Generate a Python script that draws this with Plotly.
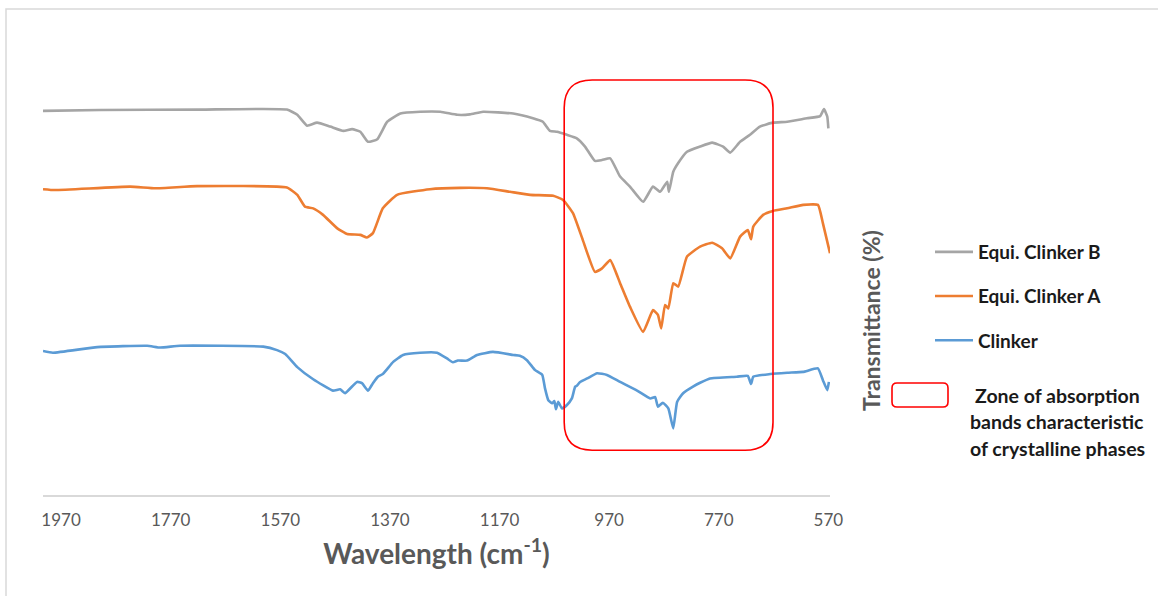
import plotly.graph_objects as go

# ---------------- data ----------------
wn_b = [2003, 1899, 1716, 1558, 1539, 1521, 1503, 1479, 1455, 1439,
        1424, 1410, 1393, 1375, 1351, 1315, 1278, 1247, 1224, 1200,
        1145, 1109, 1091, 1078, 1065, 1047, 1029, 1014, 996, 983,
        968, 950, 932, 908, 890, 877, 864, 861, 853, 844,
        828, 804, 782, 762, 749, 731, 713, 695, 671, 645,
        609, 585, 578, 572, 570]
t_b = [88.3, 88.5, 88.6, 88.6, 87.4, 84.9, 85.6, 84.7, 83.7, 84.1,
       83.5, 81.2, 81.8, 85.8, 87.7, 88.1, 88.1, 87.4, 87.5, 88.1,
       87.7, 86.6, 85.8, 83.7, 83.5, 82.8, 82.0, 80.1, 76.8, 77.0,
       77.4, 73.2, 70.9, 67.4, 70.9, 69.7, 72.0, 69.7, 74.3, 76.3,
       78.9, 80.1, 81.0, 80.1, 78.7, 81.2, 82.8, 84.7, 85.6, 85.8,
       86.6, 87.1, 88.7, 87.0, 84.3]

wn_a = [2003, 1981, 1844, 1798, 1722, 1558, 1539, 1525, 1510, 1492,
        1466, 1448, 1424, 1412, 1401, 1383, 1357, 1297, 1242, 1193,
        1151, 1114, 1072, 1054, 1036, 1018, 996, 983, 968, 950,
        932, 908, 890, 881, 875, 868, 862, 853, 844, 828,
        804, 782, 764, 749, 731, 717, 711, 707, 689, 671,
        645, 616, 589, 580, 567]
t_a = [70.3, 70.1, 70.9, 70.5, 71.0, 70.7, 69.0, 66.3, 65.9, 64.4,
       61.3, 60.0, 59.8, 59.2, 60.2, 65.9, 69.0, 70.3, 70.6, 70.5,
       69.7, 69.0, 68.8, 67.8, 64.8, 58.6, 51.3, 52.1, 54.0, 48.7,
       43.3, 37.5, 42.5, 41.4, 38.3, 43.7, 42.9, 48.7, 47.9, 54.8,
       57.1, 58.0, 56.7, 54.4, 59.4, 60.9, 58.8, 61.7, 64.4, 65.3,
       65.9, 66.7, 66.7, 62.5, 55.6]

wn_c = [2003, 1985, 1904, 1813, 1789, 1753, 1601, 1576, 1561, 1539,
        1510, 1474, 1461, 1452, 1430, 1421, 1410, 1401, 1392, 1383,
        1364, 1346, 1315, 1284, 1266, 1255, 1246, 1229, 1211, 1182,
        1145, 1133, 1120, 1105, 1092, 1087, 1081, 1074, 1070, 1067,
        1063, 1056, 1047, 1038, 1032, 1029, 1023, 1010, 992, 974,
        950, 919, 895, 886, 881, 872, 862, 853, 846, 835,
        817, 804, 786, 737, 717, 711, 707, 676, 645, 616,
        589, 580, 572, 569]
t_c = [33.1, 32.7, 34.0, 34.3, 33.9, 34.3, 34.1, 33.3, 32.4, 29.4,
       26.6, 24.0, 24.3, 23.4, 26.0, 25.7, 24.0, 25.7, 27.2, 27.8,
       30.6, 32.2, 32.7, 32.7, 31.4, 30.5, 30.9, 30.9, 32.2, 32.9,
       32.2, 32.0, 31.0, 28.7, 27.6, 24.5, 21.8, 21.1, 21.6, 19.7,
       21.4, 19.9, 20.7, 22.2, 24.9, 25.1, 26.0, 26.8, 28.0, 27.6,
       26.0, 24.0, 22.2, 22.5, 20.3, 21.2, 19.9, 15.3, 21.4, 23.4,
       24.9, 25.8, 26.8, 27.2, 27.4, 25.5, 27.2, 27.8, 28.1, 28.3,
       29.1, 26.4, 24.1, 26.0]

tick_vals = [1970, 1770, 1570, 1370, 1170, 970, 770, 570]
tick_text = [str(v) for v in tick_vals]

zone = dict(left=1052, right=671, bottom=10.3, top=95.4)

# ---------------- layout geometry ----------------
W, H = 1158, 596
ML, MR, MT, MB = 43, 328, 60, 101
PW, PH = W - ML - MR, H - MT - MB


def px2paper(x, y):
    return (x - ML) / PW, (H - MB - y) / PH


def rounded_path(x0, x1, y0, y1, rx, ry):
    # x0 left, x1 right, y0 bottom, y1 top (any axis direction)
    sx = 1 if x1 > x0 else -1
    sy = 1 if y1 > y0 else -1
    return (f"M{x0 + sx*rx},{y1} L{x1 - sx*rx},{y1} Q{x1},{y1} {x1},{y1 - sy*ry} "
            f"L{x1},{y0 + sy*ry} Q{x1},{y0} {x1 - sx*rx},{y0} "
            f"L{x0 + sx*rx},{y0} Q{x0},{y0} {x0},{y0 + sy*ry} "
            f"L{x0},{y1 - sy*ry} Q{x0},{y1} {x0 + sx*rx},{y1} Z")


FONT = "Lato, 'Open Sans', sans-serif"
GREY = "#595959"

fig = go.Figure()
series = [
    ("Equi. Clinker B", wn_b, t_b, "#A5A5A5"),
    ("Equi. Clinker A", wn_a, t_a, "#ED7D31"),
    ("Clinker", wn_c, t_c, "#5B9BD5"),
]
for i, (name, xs, ys, col) in enumerate(series):
    fig.add_trace(go.Scatter(x=xs, y=ys, mode="lines", name=f"<b>{name}</b>",
                             line=dict(color=col, width=2.6, shape="spline", smoothing=0.4),
                             legendgroup=f"g{i}"))

shapes = []
# red zone box in data coordinates
shapes.append(dict(type="path", xref="x", yref="y",
                   path=rounded_path(zone["left"], zone["right"], zone["bottom"], zone["top"],
                                     51, 6.4),
                   line=dict(color="#FF0000", width=1.6), layer="above"))
# legend marker for zone
a0 = px2paper(892, 407)
a1 = px2paper(948, 383)
shapes.append(dict(type="path", xref="paper", yref="paper",
                   path=rounded_path(a0[0], a1[0], a0[1], a1[1], 5 / PW, 5 / PH),
                   line=dict(color="#FF0000", width=1.6)))
# outer chart border (bottom/right edges fall outside the picture)
b0 = px2paper(6, 620)
b1 = px2paper(1180, 9)
shapes.append(dict(type="rect", xref="paper", yref="paper",
                   x0=b0[0], y0=b0[1], x1=b1[0], y1=b1[1],
                   line=dict(color="#D9D9D9", width=1.5), layer="below"))

annotations = []
tx, ty = px2paper(871, 321)
annotations.append(dict(xref="paper", yref="paper", x=tx, y=ty, text="<b>Transmittance (%)</b>",
                        textangle=-90, showarrow=False, xanchor="center", yanchor="middle",
                        font=dict(family=FONT, size=23, color=GREY)))
for k, line in enumerate(["Zone of absorption", "bands characteristic", "of crystalline phases"]):
    lx, ly = px2paper(1057, 395 + 26.5 * k)
    annotations.append(dict(xref="paper", yref="paper", x=lx, y=ly, text=f"<b>{line}</b>",
                            showarrow=False, xanchor="center", yanchor="middle",
                            font=dict(family=FONT, size=19.5, color="#1a1a1a")))

lgx, lgy = px2paper(930, 233)
fig.update_layout(
    width=W, height=H,
    margin=dict(l=ML, r=MR, t=MT, b=MB),
    paper_bgcolor="white", plot_bgcolor="white",
    showlegend=True,
    legend=dict(x=lgx, y=lgy, xanchor="left", yanchor="top",
                font=dict(family=FONT, size=19, color="#1a1a1a"),
                tracegroupgap=16.5, itemwidth=38, bgcolor="rgba(0,0,0,0)"),
    xaxis=dict(range=[2003, 567], tickvals=tick_vals, ticktext=tick_text,
               showgrid=False, zeroline=False, showline=True, linecolor="#D9D9D9", linewidth=1.5,
               ticks="outside", ticklen=9, tickcolor="rgba(0,0,0,0)",
               tickfont=dict(family=FONT, size=17, color=GREY),
               title=dict(text="<b>Wavelength (cm<sup>-1</sup>)</b>",
                          font=dict(family=FONT, size=28, color=GREY), standoff=15)),
    yaxis=dict(range=[0, 100], visible=False),
    shapes=shapes, annotations=annotations,
    font=dict(family=FONT),
)

fig.write_html("out.html", config={"displayModeBar": False},
               post_script="document.body.style.margin='0';")
